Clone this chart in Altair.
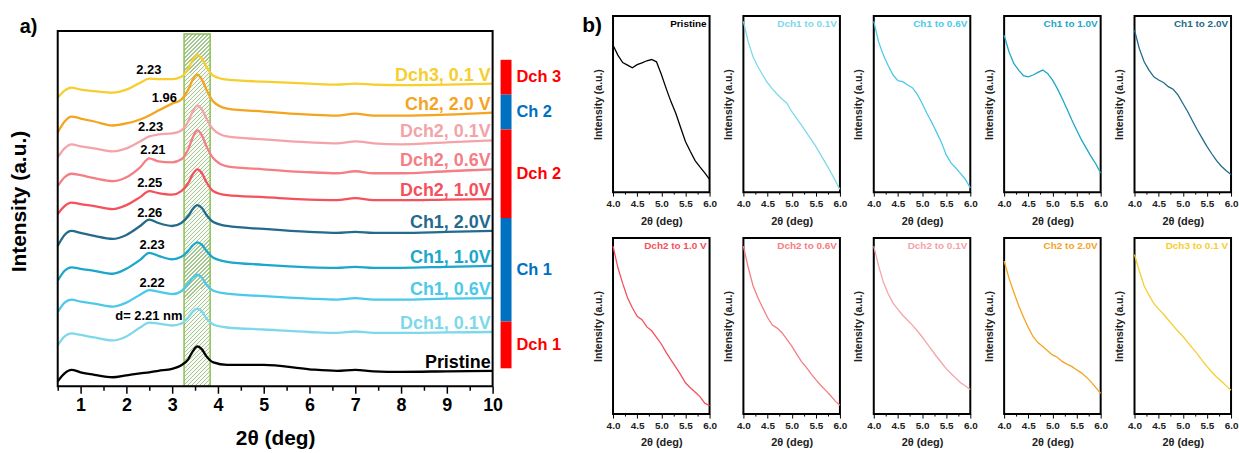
import altair as alt
import pandas as pd

FONT = "Arial"

# ---------------- panel a data ----------------
x_a = [0.5, 0.65, 0.8, 1.0, 1.3, 1.7, 2.0, 2.3, 2.5, 2.7, 3.0, 3.2, 3.35, 3.45,
       3.55, 3.65, 3.75, 3.9, 4.2, 5.0, 6.0, 6.6, 7.0, 7.4, 8.0, 9.0, 10.0]

names_a = ["Pristine", "Dch1, 0.1V", "Ch1, 0.6V", "Ch1, 1.0V", "Ch1, 2.0V",
           "Dch2, 1.0V", "Dch2, 0.6V", "Dch2, 0.1V", "Ch2, 2.0 V", "Dch3, 0.1 V"]
colors_a = ["#000000", "#7DD8EA", "#4CC9EA", "#1BA7CB", "#236A8C",
            "#F5505C", "#F47E84", "#F4A3A8", "#F4A41F", "#F6CE2E"]

y_pristine = [5, 13, 16.5, 14, 11.5, 9, 11, 13, 14, 15.5, 17.5, 21, 27, 35, 40, 37, 30, 24, 21.5, 21.5, 17, 15.5, 16.5, 15, 14.5, 15, 15.5]
y_dch1_01 = [41, 50, 53, 51.5, 49, 46, 50, 59, 64, 63, 61, 63, 69, 75, 78, 75, 68, 62, 59, 57, 54.5, 53.5, 55, 53.5, 53.5, 54, 54.5]
y_ch1_06 = [74.5, 84, 87, 85, 83, 80, 84, 92, 96.5, 95, 92.5, 95.5, 103, 109, 112, 109, 102, 96, 93, 90.5, 88, 87, 88.5, 87, 87, 88, 88.5]
y_ch1_10 = [106, 116, 119.5, 118, 116, 113, 118, 127, 134, 131, 127.5, 130, 136, 141.5, 144.5, 142, 136, 129, 125, 122, 119.5, 119, 120, 119, 119, 120, 121]
y_ch1_20 = [141, 152, 156, 154, 151, 148, 152, 161, 167.5, 164, 161, 164, 171, 178, 182, 179, 172, 165, 161, 158, 155, 154, 155, 154, 154, 155, 156]
y_dch2_10 = [173, 181, 184.5, 183, 181, 178, 182, 190, 196, 194, 192.5, 196, 204, 213, 218, 214, 205, 196, 192, 190, 187.5, 187, 189, 187, 187, 187.5, 188]
y_dch2_06 = [201, 210, 213.5, 212, 209, 206, 210, 220, 229, 226, 225, 228, 238, 250, 257, 252, 241, 229, 221, 218, 215, 214, 216, 214, 214, 216, 218]
y_dch2_01 = [230, 239, 243, 241, 239, 236, 239, 246, 251, 253, 254, 257, 266, 276, 282, 278, 269, 258, 251, 248, 245, 244, 246, 244, 243, 245, 247]
y_ch2_20 = [255, 266, 271, 269, 266, 262, 264, 268, 272, 277, 284, 288, 298, 308, 313, 308, 298, 286, 279, 276, 273, 272, 274, 272, 272, 273, 275]
y_dch3_01 = [290, 297, 300, 298, 296.5, 295, 298, 305, 309, 308.5, 308.5, 311, 319, 328, 333, 329, 321, 312, 308, 306, 304, 303, 304, 303, 302.5, 303, 304]

series_a = [y_pristine, y_dch1_01, y_ch1_06, y_ch1_10, y_ch1_20,
            y_dch2_10, y_dch2_06, y_dch2_01, y_ch2_20, y_dch3_01]

ann_text = ["2.23", "1.96", "2.23", "2.21", "2.25", "2.26", "2.23", "2.22", "d= 2.21 nm"]
ann_x = [2.49, 2.83, 2.53, 2.58, 2.51, 2.51, 2.56, 2.56, 2.49]
ann_y = [318, 290, 260, 237, 204, 174, 142, 104, 71]

stage_names = ["Dch 3", "Ch 2", "Dch 2", "Ch 1", "Dch 1"]
stage_top = [328, 293, 258, 169, 65]
stage_bottom = [293, 258, 169, 65, 18]
stage_colors = ["#FF0000", "#0070C0", "#FF0000", "#0070C0", "#FF0000"]
stage_bar_x = [10.174, 10.413]
stage_label_x = 10.52

band_x = [3.26, 3.83]
band_top = 354

x_range_a = [0.5, 10]
y_range_a = [0, 357]      # framed intensity window
y_view_a = [0, 372]       # drawing window (leaves room above the frame)

# ---------------- panel b data ----------------
x_b = [4.0, 4.1, 4.2, 4.3, 4.4, 4.5, 4.6, 4.7, 4.8, 4.9, 5.0,
       5.1, 5.2, 5.3, 5.4, 5.5, 5.6, 5.7, 5.8, 5.9, 6.0]
panels_b = ["Pristine", "Dch1 to 0.1V", "Ch1 to 0.6V", "Ch1 to 1.0V", "Ch1 to 2.0V",
            "Dch2 to 1.0 V", "Dch2 to 0.6V", "Dch2 to 0.1V", "Ch2 to 2.0V", "Dch3 to 0.1 V"]
colors_b = ["#000000", "#7DD8EA", "#4CC9EA", "#1BA7CB", "#236A8C",
            "#F5505C", "#F47E84", "#F4A3A8", "#F4A41F", "#F6CE2E"]

b_pristine = [83.4, 77.8, 73.6, 72.1, 70.6, 72.4, 73.4, 74.6, 75.3, 74.0, 66.9, 58.9, 51.4, 44.8, 36.7, 28.8, 23.2, 17.9, 14.3, 10.9, 7.2]
b_dch1_01 = [97.0, 85.3, 76.8, 71.2, 66.5, 62.1, 58.6, 55.6, 52.9, 50.5, 45.8, 42.0, 38.2, 34.1, 30.1, 26.0, 21.3, 16.6, 11.9, 6.8, 1.5]
b_ch1_06 = [97.0, 85.3, 77.8, 71.8, 66.5, 63.3, 62.7, 60.8, 59.3, 55.6, 50.5, 44.8, 39.7, 34.1, 28.4, 21.3, 16.6, 13.7, 10.5, 7.2, 2.4]
b_ch1_10 = [89.1, 79.7, 73.1, 69.3, 66.1, 65.5, 66.5, 68.0, 69.3, 67.4, 63.7, 58.9, 53.3, 47.3, 41.1, 35.4, 29.8, 25.0, 20.3, 16.0, 10.9]
b_ch1_20 = [91.9, 81.5, 74.0, 69.3, 65.5, 63.7, 62.3, 59.9, 58.4, 55.2, 50.5, 45.8, 40.5, 35.4, 30.7, 26.0, 21.8, 17.9, 14.7, 12.2, 10.0]
b_dch2_10 = [95.3, 83.2, 74.2, 66.0, 60.4, 55.5, 53.6, 49.5, 47.3, 43.6, 39.8, 35.0, 30.8, 26.7, 22.4, 17.8, 15.0, 12.5, 9.9, 6.2, 4.7]
b_dch2_06 = [95.3, 83.2, 72.9, 66.0, 60.4, 54.8, 50.5, 48.8, 46.2, 42.4, 38.7, 34.2, 29.9, 26.7, 23.0, 19.6, 16.4, 13.6, 10.7, 7.5, 5.0]
b_dch2_01 = [95.3, 84.1, 74.8, 68.2, 63.0, 59.4, 56.1, 53.3, 50.5, 47.3, 43.9, 40.2, 36.4, 32.7, 29.3, 25.8, 23.0, 20.4, 17.8, 15.9, 14.0]
b_ch2_20 = [86.9, 77.2, 69.2, 61.7, 55.1, 49.2, 43.9, 40.6, 38.3, 35.9, 33.6, 32.3, 29.9, 28.4, 27.1, 25.2, 23.4, 21.1, 18.3, 15.0, 11.8]
b_dch3_01 = [90.6, 81.2, 72.7, 67.5, 62.8, 59.6, 56.8, 53.4, 50.2, 47.0, 44.2, 40.8, 37.4, 34.2, 30.5, 27.1, 23.9, 21.1, 18.6, 16.0, 13.5]

series_b = [b_pristine, b_dch1_01, b_ch1_06, b_ch1_10, b_ch1_20,
            b_dch2_10, b_dch2_06, b_dch2_01, b_ch2_20, b_dch3_01]

# ---------------- tables (panel a) ----------------
df_a = pd.DataFrame([
    {"series": n, "x": xv, "y": yv}
    for n, ys in zip(names_a, series_a) for xv, yv in zip(x_a, ys)
])
df_lab = pd.DataFrame({"series": names_a, "x": [x_a[-1]] * len(names_a),
                       "y": [ys[-1] for ys in series_a]})
df_ann = pd.DataFrame({"text": ann_text, "x": ann_x, "y": ann_y})
df_stage = pd.DataFrame({
    "stage": stage_names, "color": stage_colors,
    "x": [stage_bar_x[0]] * 5, "x2": [stage_bar_x[1]] * 5,
    "y": stage_top, "y2": stage_bottom,
    "lx": [stage_label_x] * 5,
    "ly": [(t + b) / 2 for t, b in zip(stage_top, stage_bottom)],
})
df_band = pd.DataFrame({"x": [band_x[0]], "x2": [band_x[1]], "y": [band_top], "y2": [0]})
df_frame = pd.DataFrame({"x": [x_range_a[0]], "x2": [x_range_a[1]],
                         "y": [y_range_a[1]], "y2": [y_range_a[0]]})
df_tag_a = pd.DataFrame({"text": ["a)"], "x": [-0.33], "y": [360.5]})

# ---------------- panel a ----------------
xs_a = alt.Scale(domain=x_range_a, nice=False, zero=False)
ys_a = alt.Scale(domain=y_view_a, nice=False, zero=False)
ticks_a = [0.5 * i for i in range(1, 21)]

xaxis_a = alt.Axis(
    values=ticks_a, title="2θ (deg)", grid=False, domain=False,
    labelExpr="datum.value % 1 == 0 ? format(datum.value, 'd') : ''",
    tickSize={"condition": {"test": "datum.value % 1 == 0", "value": 7}, "value": 4},
    tickColor="black", tickWidth=1.5, labelFlush=False, labelOverlap=False,
    labelFont=FONT, labelFontSize=18, labelFontWeight="bold", labelColor="black",
    labelPadding=3, titleFont=FONT, titleFontSize=21, titleFontWeight="bold",
    titleColor="black", titlePadding=14,
)
yaxis_a = alt.Axis(
    title="Intensity (a.u.)", labels=False, ticks=False, domain=False, grid=False,
    titleFont=FONT, titleFontSize=21, titleFontWeight="bold", titleColor="black",
    titlePadding=28,
)

X = lambda f="x": alt.X(f + ":Q", scale=xs_a, axis=xaxis_a)
Y = lambda f="y": alt.Y(f + ":Q", scale=ys_a, axis=yaxis_a)

hatch_n = 95
hatch_line = "#a6c593"
hatch_bg = "#f8fbf5"
stops = []
for k in range(hatch_n):
    s0 = k / hatch_n
    s1 = (k + 0.3) / hatch_n
    s2 = (k + 1) / hatch_n
    stops += [
        alt.GradientStop(color=hatch_line, offset=s0),
        alt.GradientStop(color=hatch_line, offset=s1),
        alt.GradientStop(color=hatch_bg, offset=s1),
        alt.GradientStop(color=hatch_bg, offset=s2),
    ]
hatch = alt.LinearGradient(gradient="linear", stops=stops, x1=0, y1=0, x2=0.079, y2=1.068)

band = alt.Chart(df_band).mark_rect(fill=hatch, stroke="#8cc152", strokeWidth=1.5).encode(
    x=X(), x2="x2:Q", y=Y(), y2="y2:Q")

frame = alt.Chart(df_frame).mark_rect(fillOpacity=0, stroke="black", strokeWidth=2).encode(
    x=X(), x2="x2:Q", y=Y(), y2="y2:Q")

color_a = alt.Color("series:N", scale=alt.Scale(domain=names_a, range=colors_a), legend=None)
color_raw = alt.Color("color:N", scale=None, legend=None)

lines = alt.Chart(df_a).mark_line(strokeWidth=2.3, interpolate="monotone").encode(
    x=X(), y=Y(), color=color_a)

labels = alt.Chart(df_lab).mark_text(
    align="right", baseline="middle", dx=-2, dy=-8, font=FONT, fontSize=18, fontWeight="bold"
).encode(x=X(), y=Y(), text="series:N", color=color_a)

ann = alt.Chart(df_ann).mark_text(
    align="center", baseline="middle", font=FONT, fontSize=13, fontWeight="bold", color="black"
).encode(x=X(), y=Y(), text="text:N")

bars = alt.Chart(df_stage).mark_rect().encode(
    x=X(), x2="x2:Q", y=Y(), y2="y2:Q", color=color_raw)

stage_lab = alt.Chart(df_stage).mark_text(
    align="left", baseline="middle", font=FONT, fontSize=16.5, fontWeight="bold"
).encode(x=X("lx"), y=Y("ly"), text="stage:N", color=color_raw)

tag_a = alt.Chart(df_tag_a).mark_text(
    align="left", baseline="middle", font=FONT, fontSize=20, fontWeight="bold", color="black"
).encode(x=X(), y=Y(), text="text:N")

panel_a = alt.layer(band, lines, frame, labels, ann, bars, stage_lab, tag_a).resolve_scale(
    color="independent").properties(width=437, height=372,
                                    view=alt.ViewBackground(strokeOpacity=0))

# ---------------- panel b ----------------
xs_b = alt.Scale(domain=[4, 6], nice=False, zero=False)
ys_b = alt.Scale(domain=[0, 100], nice=False, zero=False)
ticks_b = [4 + 0.25 * i for i in range(9)]
xaxis_b = alt.Axis(
    values=ticks_b, title="2θ (deg)", grid=False, domain=False,
    labelExpr="datum.value % 0.5 == 0 ? format(datum.value, '.1f') : ''",
    tickSize={"condition": {"test": "datum.value % 0.5 == 0", "value": 4}, "value": 2},
    tickColor="black", tickWidth=1, labelFlush=False, labelOverlap=False,
    labelFont=FONT, labelFontSize=10, labelFontWeight="bold", labelColor="#222222",
    labelPadding=2, titleFont=FONT, titleFontSize=11, titleFontWeight="bold",
    titleColor="#222222", titlePadding=7,
)
yaxis_b = alt.Axis(
    title="Intensity (a.u.)", labels=False, ticks=False, domain=False, grid=False,
    titleFont=FONT, titleFontSize=10.5, titleFontWeight="bold", titleColor="#222222",
    titlePadding=10,
)
XB = alt.X("x:Q", scale=xs_b, axis=xaxis_b)
YB = alt.Y("y:Q", scale=ys_b, axis=yaxis_b)

cells = []
for i, (p, col, ys) in enumerate(zip(panels_b, colors_b, series_b)):
    d_curve = pd.DataFrame({"x": x_b, "y": ys})
    d_title = pd.DataFrame({"x": [6.0], "y": [100.0], "label": [p]})
    layers = [
        alt.Chart(d_curve).mark_line(strokeWidth=1.3, color=col).encode(x=XB, y=YB),
        alt.Chart(d_title).mark_text(
            align="right", baseline="top", dx=-3, dy=3, font=FONT, fontSize=10,
            fontWeight="bold", color=col,
        ).encode(x=XB, y=YB, text="label:N"),
    ]
    if i == 0:
        d_tag = pd.DataFrame({"x": [3.36], "y": [94.2], "label": ["b)"]})
        layers.append(alt.Chart(d_tag).mark_text(
            align="left", baseline="middle", font=FONT, fontSize=21, fontWeight="bold",
            color="black",
        ).encode(x=XB, y=YB, text="label:N"))
    cells.append(alt.layer(*layers).properties(width=97, height=177))

panel_b = alt.concat(*cells, columns=5, spacing={"row": 46, "column": 34}, bounds="flush")

chart = alt.hconcat(panel_a, panel_b, spacing=19).properties(
    padding={"left": 9, "top": 13, "right": 0, "bottom": 0},
    background="white",
).configure_view(stroke="black", strokeWidth=2)

chart.save("out.html", embed_options={"renderer": "svg", "actions": False})
